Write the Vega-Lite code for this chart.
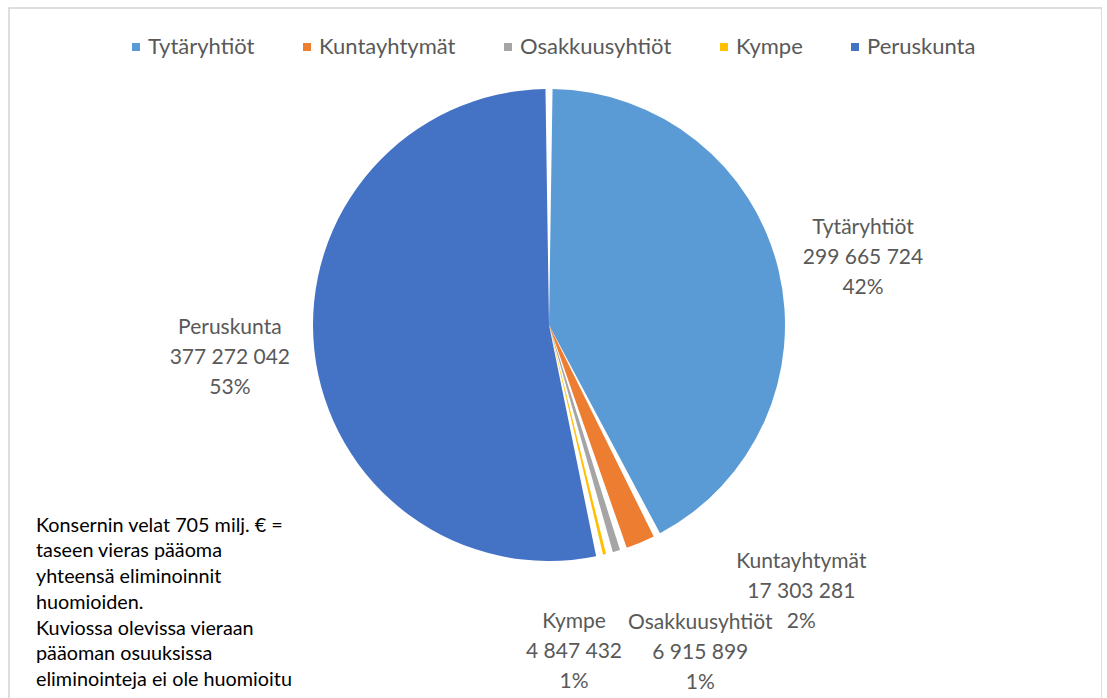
{
  "$schema": "https://vega.github.io/schema/vega-lite/v6.json",
  "autosize": "none",
  "padding": {"left": 9, "top": 8, "right": 0, "bottom": 0},
  "width": 1093,
  "height": 700,
  "background": "white",
  "data": {
    "values": [
      {"name": "Tytäryhtiöt", "value": 299665724, "pct": 42, "ord": 1},
      {"name": "Kuntayhtymät", "value": 17303281, "pct": 2, "ord": 2},
      {"name": "Osakkuusyhtiöt", "value": 6915899, "pct": 1, "ord": 3},
      {"name": "Kympe", "value": 4847432, "pct": 1, "ord": 4},
      {"name": "Peruskunta", "value": 377272042, "pct": 53, "ord": 5}
    ]
  },
  "transform": [
    {"calculate": "[datum.name, format(datum.value, ',d'), datum.pct + '%']", "as": "label"}
  ],
  "title": {
    "text": ["Konsernin velat 705 milj. € =", "taseen vieras pääoma", "yhteensä eliminoinnit", "huomioiden.", "Kuviossa olevissa vieraan", "pääoman osuuksissa", "eliminointeja ei ole huomioitu"],
    "orient": "bottom",
    "anchor": "start",
    "frame": "group",
    "offset": -193,
    "dx": 27,
    "baseline": "top",
    "font": "Lato",
    "fontSize": 19.8,
    "fontWeight": "normal",
    "color": "#000000",
    "lineHeight": 25.7
  },
  "layer": [
    {
      "transform": [{"aggregate": [{"op": "count", "as": "n"}]}],
      "mark": {"type": "rect", "fill": "transparent", "stroke": "#D4D4D4", "strokeWidth": 1.5},
      "encoding": {}
    },
    {
      "mark": {"type": "arc", "radius": 236, "padAngle": 0.03, "xOffset": -6.5, "yOffset": -33},
      "encoding": {
        "theta": {"field": "value", "type": "quantitative", "stack": true},
        "order": {"field": "ord", "type": "quantitative"},
        "color": {
          "field": "name",
          "type": "nominal",
          "scale": {
            "domain": ["Tytäryhtiöt", "Kuntayhtymät", "Osakkuusyhtiöt", "Kympe", "Peruskunta"],
            "range": ["#5B9BD5", "#ED7D31", "#A5A5A5", "#FFC000", "#4472C4"]
          },
          "legend": {
            "title": null,
            "orient": "none",
            "direction": "horizontal",
            "columns": 5,
            "legendX": 116,
            "legendY": 28,
            "padding": 0,
            "symbolType": "square",
            "symbolSize": 64,
            "symbolStrokeWidth": 0,
            "labelFont": "Lato",
            "labelFontSize": 22,
            "labelColor": "#595959",
            "labelOffset": 1,
            "columnPadding": 41
          }
        }
      }
    },
    {
      "mark": {"type": "text", "radius": 321, "font": "Lato", "fontSize": 21, "color": "#595959", "lineHeight": 30, "baseline": "middle", "align": "center", "dx": -4.5, "dy": -54.5},
      "encoding": {
        "theta": {"field": "value", "type": "quantitative", "stack": true},
        "order": {"field": "ord", "type": "quantitative"},
        "text": {"condition": {"test": "datum.name === 'Tytäryhtiöt'", "field": "label"}, "value": ""}
      }
    },
    {
      "mark": {"type": "text", "radius": 321, "font": "Lato", "fontSize": 21, "color": "#595959", "lineHeight": 30, "baseline": "middle", "align": "center", "dx": -6.5, "dy": -65},
      "encoding": {
        "theta": {"field": "value", "type": "quantitative", "stack": true},
        "order": {"field": "ord", "type": "quantitative"},
        "text": {"condition": {"test": "datum.name === 'Peruskunta'", "field": "label"}, "value": ""}
      }
    },
    {
      "mark": {"type": "text", "radius": 321, "font": "Lato", "fontSize": 21, "color": "#595959", "lineHeight": 30, "baseline": "middle", "align": "center", "dx": 121.5, "dy": -92},
      "encoding": {
        "theta": {"field": "value", "type": "quantitative", "stack": true},
        "order": {"field": "ord", "type": "quantitative"},
        "text": {"condition": {"test": "datum.name === 'Kuntayhtymät'", "field": "label"}, "value": ""}
      }
    },
    {
      "mark": {"type": "text", "radius": 321, "font": "Lato", "fontSize": 21, "color": "#595959", "lineHeight": 30, "baseline": "middle", "align": "center", "dx": 53, "dy": -43},
      "encoding": {
        "theta": {"field": "value", "type": "quantitative", "stack": true},
        "order": {"field": "ord", "type": "quantitative"},
        "text": {"condition": {"test": "datum.name === 'Osakkuusyhtiöt'", "field": "label"}, "value": ""}
      }
    },
    {
      "mark": {"type": "text", "radius": 321, "font": "Lato", "fontSize": 21, "color": "#595959", "lineHeight": 30, "baseline": "middle", "align": "center", "dx": -57, "dy": -48},
      "encoding": {
        "theta": {"field": "value", "type": "quantitative", "stack": true},
        "order": {"field": "ord", "type": "quantitative"},
        "text": {"condition": {"test": "datum.name === 'Kympe'", "field": "label"}, "value": ""}
      }
    }
  ],
  "config": {
    "locale": {"number": {"decimal": ",", "thousands": " ", "grouping": [3], "currency": ["", " €"]}}
  }
}
